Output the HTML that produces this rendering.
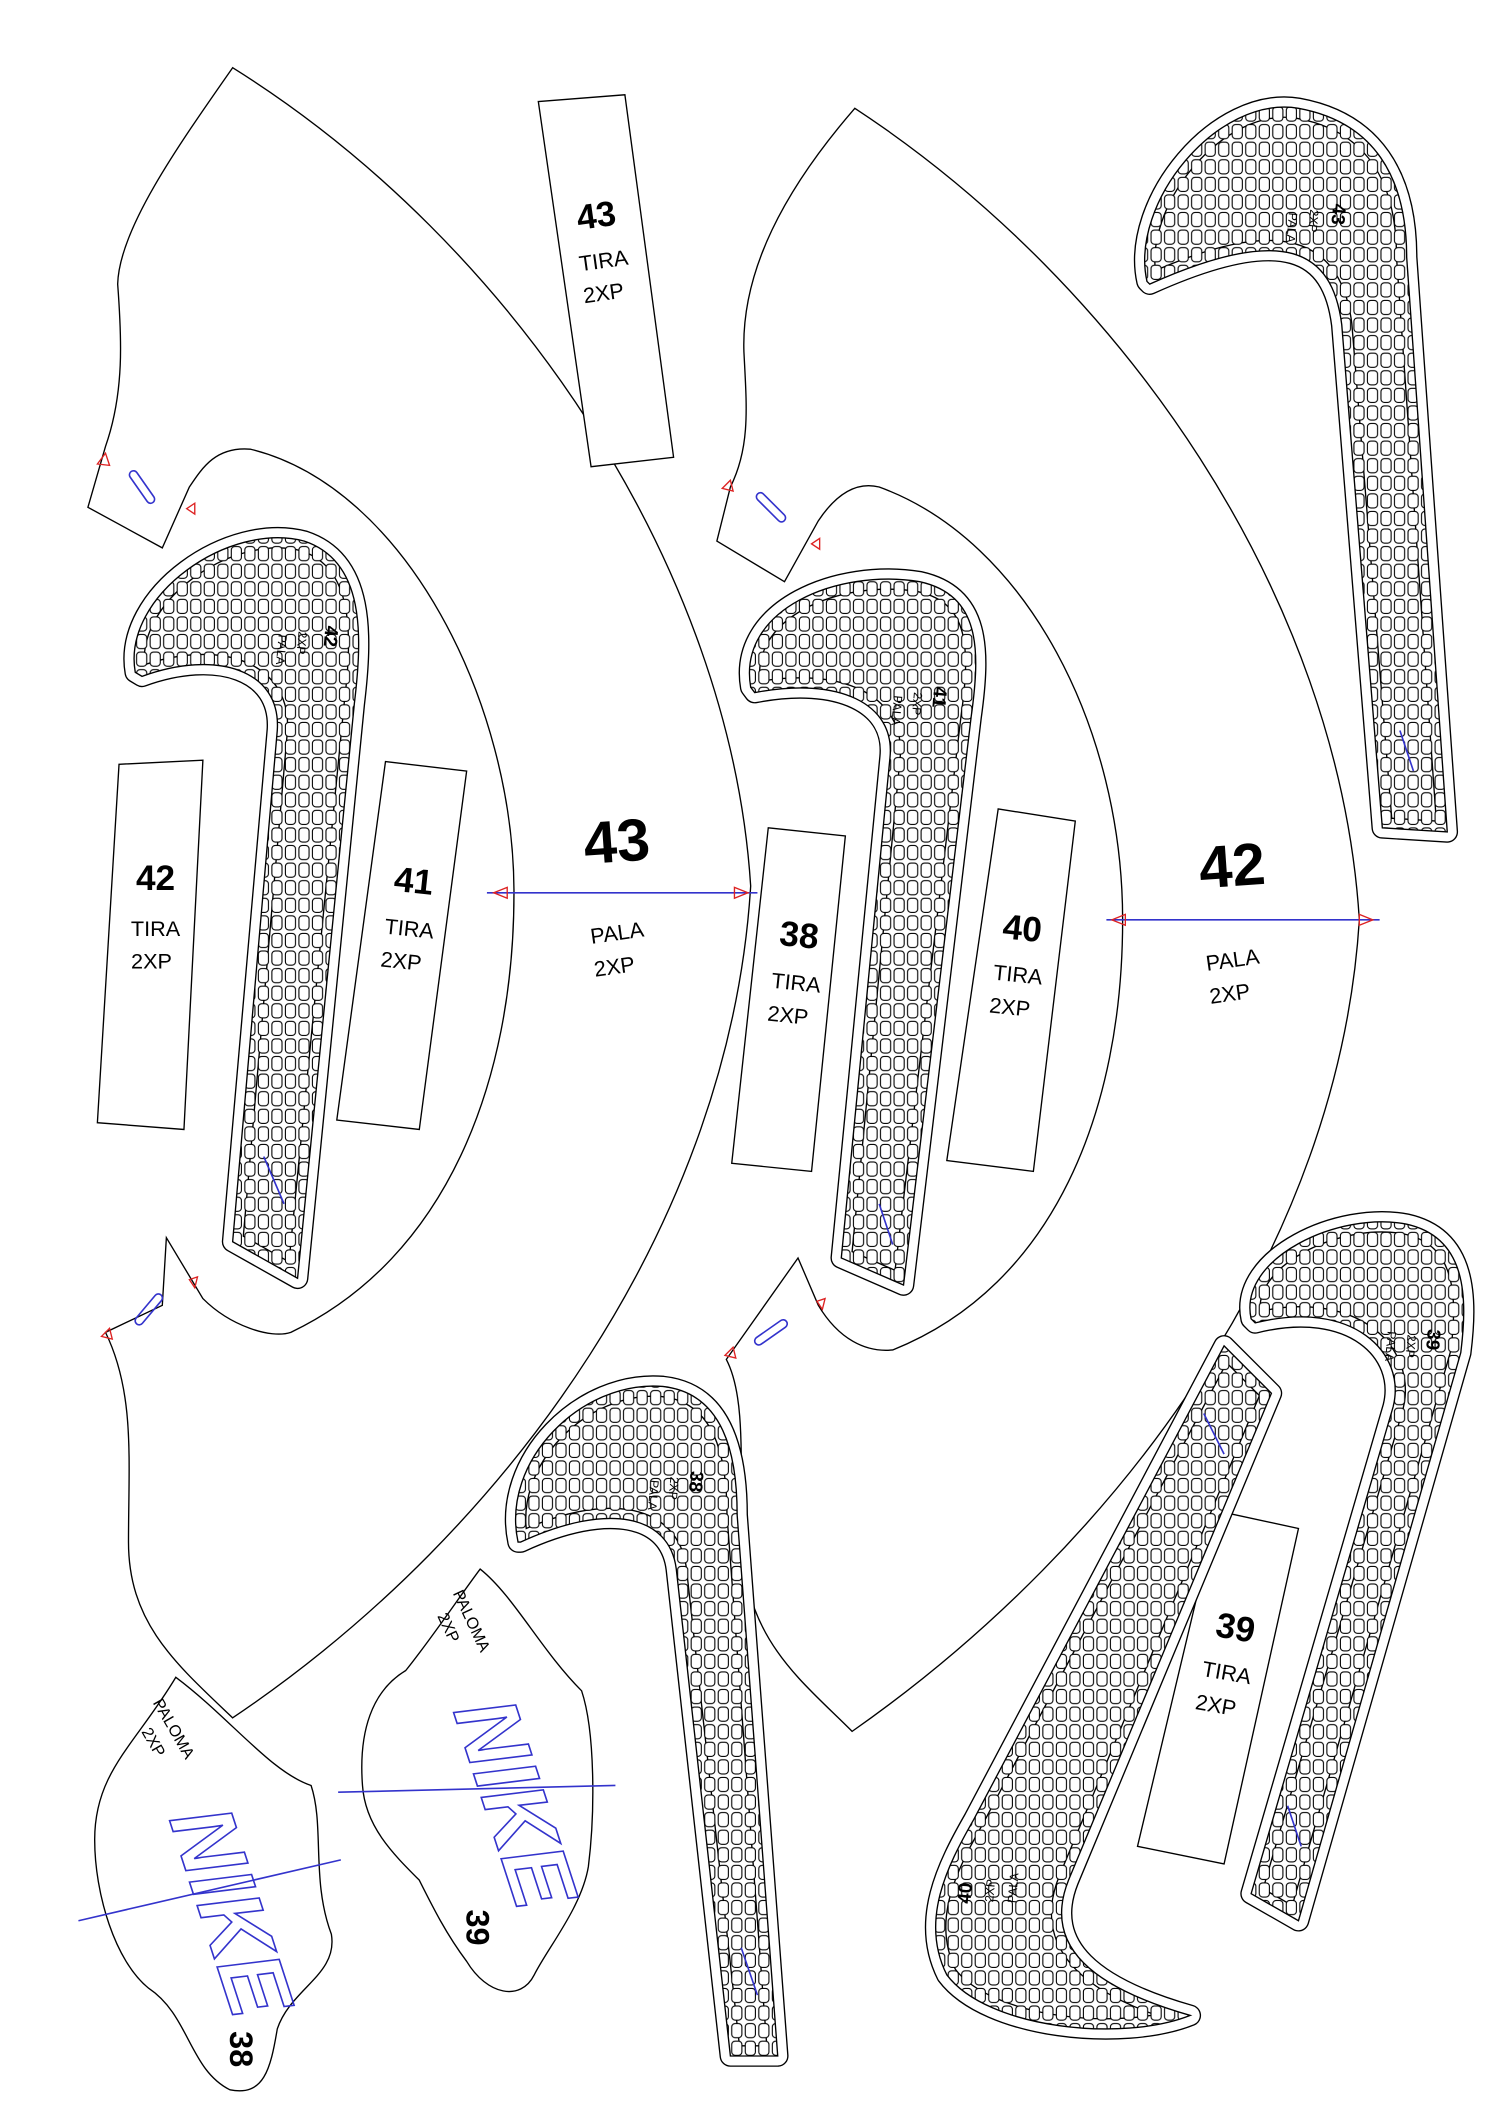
<!DOCTYPE html>
<html><head><meta charset="utf-8"><style>
html,body{margin:0;padding:0;background:#fff}
svg{display:block}
text{font-family:"Liberation Sans",sans-serif}
</style></head><body>
<svg width="1500" height="2121" viewBox="0 0 1109 1568" xmlns="http://www.w3.org/2000/svg">
<defs>
<pattern id="g" width="10" height="13" patternUnits="userSpaceOnUse">
<rect x="1" y="1" width="7.5" height="10.5" rx="2.5" fill="#fff" stroke="#000" stroke-width="0.8"/>
</pattern>
</defs>
<rect width="1109" height="1568" fill="#fff"/>
<g fill="#fff" stroke="#000" stroke-width="1">
<path d="M172,50 C380,180 540,420 555,655 C540,900 380,1130 172,1270 C130,1230 95,1200 95,1140 C95,1080 100,1030 78,985 L120,965 L123,915 L150,960 C170,980 200,990 215,985 C330,930 380,800 380,660 C380,520 300,360 185,332 C160,330 150,345 140,360 L120,405 L65,375 L78,330 C92,290 90,250 87,210 C88,170 130,110 172,50 Z"/>
<path d="M632,80 C830,210 990,440 1005,680 C990,920 830,1140 630,1280 C590,1240 548,1210 548,1130 C548,1070 550,1030 537,1005 L590,930 L605,965 C620,990 640,1000 660,998 C780,950 830,820 830,680 C830,540 760,400 650,360 C630,355 615,370 605,385 L580,430 L530,400 L540,360 C555,330 552,300 550,260 C548,200 580,140 632,80 Z"/>
<polygon points="398,75 462,70 498,338 437,345"/>
<polygon points="88,565 150,562 136,835 72,830"/>
<polygon points="285,563 345,570 310,835 249,828"/>
<polygon points="568,612 625,618 600,866 541,860"/>
<polygon points="738,598 795,607 764,866 700,858"/>
<polygon points="900,1117 960,1130 905,1378 841,1365"/>
<path d="M130,1240 C170,1270 200,1310 230,1320 C240,1350 230,1390 245,1430 C250,1460 215,1470 205,1500 C200,1530 195,1550 170,1545 C140,1530 140,1490 110,1470 C85,1450 70,1400 70,1360 C70,1310 100,1290 130,1240 Z"/>
<path d="M355,1160 C380,1180 400,1220 430,1250 C440,1280 440,1340 435,1380 C430,1410 405,1440 395,1460 C385,1480 360,1475 345,1450 C330,1430 320,1410 310,1390 C290,1370 270,1350 268,1320 C265,1280 275,1250 300,1235 C320,1210 340,1180 355,1160 Z"/>
</g>
<g>
<g stroke="#000" stroke-width="16" fill="none" stroke-linejoin="round">
<path id="a" d="M100,497 C90,440 170,385 225,400 C270,415 268,470 262,520 L220,945 L172,918 L205,540 C208,495 160,480 105,500 Z"/>
<path id="b" d="M555,508 C545,450 620,420 680,430 C725,440 725,480 718,530 L668,950 L622,930 L658,560 C662,520 620,500 558,512 Z"/>
<path id="c" d="M848,208 C835,150 900,70 960,80 C1015,90 1040,130 1040,190 L1070,615 L1022,612 L992,240 C985,185 950,165 850,210 Z"/>
<path id="d" d="M383,1140 C370,1080 430,1020 490,1025 C535,1030 545,1075 545,1120 L575,1520 L540,1520 L500,1160 C495,1120 450,1110 385,1140 Z"/>
<path id="e" d="M925,975 C915,930 990,895 1040,905 C1085,915 1085,960 1080,1000 L960,1420 L925,1400 L1030,1040 C1040,1000 1000,960 928,978 Z"/>
<path id="f" d="M905,995 L940,1030 L790,1390 C770,1440 810,1470 880,1490 C830,1510 730,1500 700,1460 C680,1420 700,1380 720,1345 Z"/>
</g>
<g stroke="#fff" stroke-width="14" fill="none" stroke-linejoin="round">
<use href="#a"/><use href="#b"/><use href="#c"/><use href="#d"/><use href="#e"/><use href="#f"/>
</g>
<g stroke="#000" stroke-width="1" fill="url(#g)">
<use href="#a"/><use href="#b"/><use href="#c"/><use href="#d"/><use href="#e"/><use href="#f"/>
</g>
</g>
<g stroke="#33c" stroke-width="1.2" fill="none">
<rect x="-3" y="-14" width="6" height="28" rx="3" transform="translate(105,360) rotate(-35)"/>
<rect x="-3" y="-14" width="6" height="28" rx="3" transform="translate(110,968) rotate(40)"/>
<rect x="-3" y="-14" width="6" height="28" rx="3" transform="translate(570,375) rotate(-45)"/>
<rect x="-3" y="-14" width="6" height="28" rx="3" transform="translate(570,985) rotate(55)"/>
<line x1="360" y1="660" x2="560" y2="660"/>
<line x1="818" y1="680" x2="1020" y2="680"/>
<line x1="195" y1="855" x2="210" y2="890"/>
<line x1="650" y1="890" x2="660" y2="920"/>
<line x1="1035" y1="540" x2="1045" y2="570"/>
<line x1="548" y1="1440" x2="560" y2="1475"/>
<line x1="890" y1="1045" x2="905" y2="1075"/>
<line x1="952" y1="1335" x2="962" y2="1365"/>
<line x1="58" y1="1420" x2="252" y2="1375"/>
<line x1="250" y1="1325" x2="455" y2="1320"/>
</g>
<g fill="none" stroke="#d22" stroke-width="1">
<path d="M72,343 l6,-8 l3,9 Z"/><path d="M138,376 l6,-4 l0,8 Z"/>
<path d="M75,988 l6,-6 l2,8 Z"/><path d="M140,946 l6,-2 l-2,8 Z"/>
<path d="M534,361 l6,-6 l2,8 Z"/><path d="M600,402 l6,-4 l0,8 Z"/>
<path d="M536,1002 l6,-6 l2,8 Z"/><path d="M604,962 l6,-2 l-2,8 Z"/>
<path d="M365,660 l10,-4 l0,8 Z"/><path d="M553,660 l-10,-4 l0,8 Z"/>
<path d="M822,680 l10,-4 l0,8 Z"/><path d="M1015,680 l-10,-4 l0,8 Z"/>
</g>
<g fill="none" stroke="#33c" stroke-width="1.2" font-size="66" font-weight="bold" font-style="italic">
<text transform="translate(125,1345) rotate(72)">NIKE</text>
<text transform="translate(335,1265) rotate(72)">NIKE</text>
</g>
<g fill="#000" text-anchor="middle">
<g font-weight="bold">
<text x="442" y="168" font-size="26" transform="rotate(-8 442 168)">43</text>
<text x="115" y="658" font-size="26">42</text>
<text x="305" y="660" font-size="26" transform="rotate(6 305 660)">41</text>
<text x="457" y="637" font-size="44" transform="rotate(-4 457 637)">43</text>
<text x="590" y="700" font-size="26" transform="rotate(6 590 700)">38</text>
<text x="755" y="695" font-size="26" transform="rotate(6 755 695)">40</text>
<text x="912" y="655" font-size="44" transform="rotate(-4 912 655)">42</text>
<text x="912" y="1212" font-size="26" transform="rotate(10 912 1212)">39</text>
<text x="170" y="1515" font-size="24" transform="rotate(90 170 1515)">38</text>
<text x="345" y="1425" font-size="24" transform="rotate(90 345 1425)">39</text>
</g>
<text x="447" y="198" font-size="16" transform="rotate(-8 447 198)">TIRA</text>
<text x="447" y="222" font-size="16" transform="rotate(-8 447 222)">2XP</text>
<text x="115" y="692" font-size="16">TIRA</text>
<text x="112" y="716" font-size="16">2XP</text>
<text x="302" y="692" font-size="16" transform="rotate(6 302 692)">TIRA</text>
<text x="296" y="716" font-size="16" transform="rotate(6 296 716)">2XP</text>
<text x="457" y="695" font-size="16" transform="rotate(-8 457 695)">PALA</text>
<text x="455" y="720" font-size="16" transform="rotate(-8 455 720)">2XP</text>
<text x="588" y="732" font-size="16" transform="rotate(6 588 732)">TIRA</text>
<text x="582" y="756" font-size="16" transform="rotate(6 582 756)">2XP</text>
<text x="752" y="726" font-size="16" transform="rotate(6 752 726)">TIRA</text>
<text x="746" y="750" font-size="16" transform="rotate(6 746 750)">2XP</text>
<text x="912" y="715" font-size="16" transform="rotate(-8 912 715)">PALA</text>
<text x="910" y="740" font-size="16" transform="rotate(-8 910 740)">2XP</text>
<text x="906" y="1242" font-size="16" transform="rotate(10 906 1242)">TIRA</text>
<text x="898" y="1266" font-size="16" transform="rotate(10 898 1266)">2XP</text>
<text x="125" y="1280" font-size="12" transform="rotate(60 125 1280)">PALOMA</text>
<text x="110" y="1290" font-size="12" transform="rotate(60 110 1290)">2XP</text>
<text x="345" y="1200" font-size="12" transform="rotate(65 345 1200)">PALOMA</text>
<text x="328" y="1205" font-size="12" transform="rotate(65 328 1205)">2XP</text>
<text x="240" y="470" font-size="14" font-weight="bold" transform="rotate(95 240 470)">42</text>
<text x="220" y="475" font-size="9" transform="rotate(95 220 475)">2XP</text>
<text x="205" y="480" font-size="9" transform="rotate(95 205 480)">PALA</text>
<text x="690" y="515" font-size="14" font-weight="bold" transform="rotate(95 690 515)">41</text>
<text x="675" y="520" font-size="9" transform="rotate(95 675 520)">2XP</text>
<text x="660" y="525" font-size="9" transform="rotate(95 660 525)">PALA</text>
<text x="985" y="158" font-size="14" font-weight="bold" transform="rotate(95 985 158)">43</text>
<text x="968" y="163" font-size="9" transform="rotate(95 968 163)">2XP</text>
<text x="952" y="168" font-size="9" transform="rotate(95 952 168)">PALA</text>
<text x="510" y="1095" font-size="14" font-weight="bold" transform="rotate(95 510 1095)">38</text>
<text x="495" y="1100" font-size="9" transform="rotate(95 495 1100)">2XP</text>
<text x="480" y="1105" font-size="9" transform="rotate(95 480 1105)">PALA</text>
<text x="1055" y="990" font-size="14" font-weight="bold" transform="rotate(95 1055 990)">39</text>
<text x="1040" y="995" font-size="9" transform="rotate(95 1040 995)">2XP</text>
<text x="1025" y="995" font-size="9" transform="rotate(95 1025 995)">PALA</text>
<text x="718" y="1400" font-size="14" font-weight="bold" transform="rotate(-85 718 1400)">40</text>
<text x="735" y="1398" font-size="9" transform="rotate(-85 735 1398)">2XP</text>
<text x="752" y="1396" font-size="9" transform="rotate(-85 752 1396)">PALA</text>
</g>
</svg>
</body></html>
